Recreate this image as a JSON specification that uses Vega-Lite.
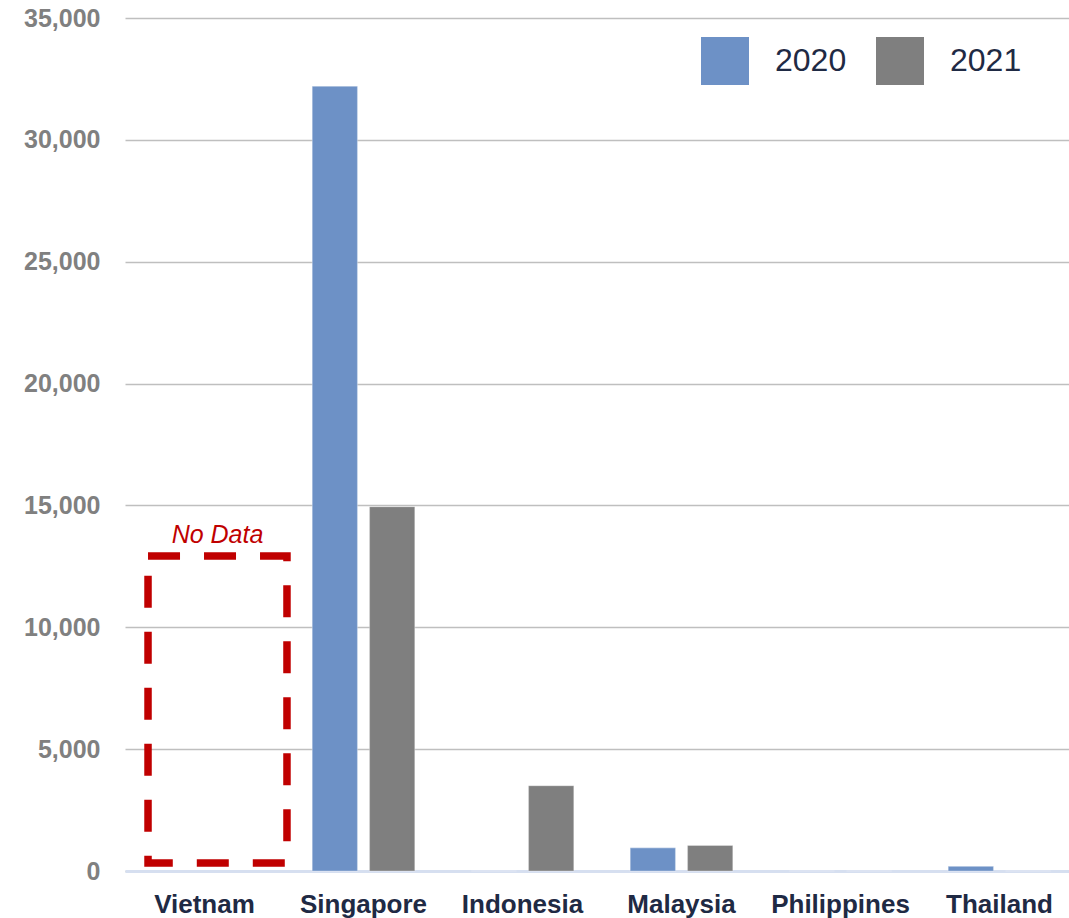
{
  "$schema": "https://vega.github.io/schema/vega-lite/v6.json",
  "width": 954,
  "height": 853,
  "autosize": {"type": "none"},
  "padding": {"left": 125, "top": 18, "right": 0, "bottom": 47},
  "background": "white",
  "config": {
    "font": "Liberation Sans",
    "view": {"stroke": null}
  },
  "datasets": {
    "bars": [
      {"country": "Singapore", "year": "2020", "value": 32200},
      {"country": "Singapore", "year": "2021", "value": 14950},
      {"country": "Indonesia", "year": "2020", "value": 0},
      {"country": "Indonesia", "year": "2021", "value": 3500},
      {"country": "Malaysia", "year": "2020", "value": 950},
      {"country": "Malaysia", "year": "2021", "value": 1050},
      {"country": "Philippines", "year": "2020", "value": 0},
      {"country": "Philippines", "year": "2021", "value": 0},
      {"country": "Thailand", "year": "2020", "value": 190},
      {"country": "Thailand", "year": "2021", "value": 0}
    ],
    "note": [
      {"country": "Vietnam", "label": "No Data", "top": 12920, "bottom": 330}
    ]
  },
  "layer": [
    {
      "data": {"name": "bars"},
      "mark": {"type": "bar", "stroke": "white", "strokeOpacity": 0.3, "strokeWidth": 1.2},
      "encoding": {
        "x": {
          "field": "country",
          "type": "nominal",
          "scale": {
            "domain": ["Vietnam", "Singapore", "Indonesia", "Malaysia", "Philippines", "Thailand"],
            "paddingInner": 0,
            "paddingOuter": 0
          },
          "axis": {
            "title": null,
            "labelAngle": 0,
            "labelFontSize": 26,
            "labelFontWeight": "bold",
            "labelColor": "#1F2A44",
            "labelPadding": 20,
            "ticks": false,
            "domainColor": "#D6DFF0",
            "domainWidth": 3,
            "grid": false
          }
        },
        "xOffset": {
          "field": "year",
          "type": "nominal",
          "scale": {"paddingInner": 0.209, "paddingOuter": 0.492}
        },
        "y": {
          "field": "value",
          "type": "quantitative",
          "scale": {"domain": [0, 35000], "nice": false},
          "axis": {
            "title": null,
            "values": [0, 5000, 10000, 15000, 20000, 25000, 30000, 35000],
            "format": ",d",
            "labelFontSize": 25,
            "labelFontWeight": "bold",
            "labelColor": "#808080",
            "labelPadding": 25,
            "ticks": false,
            "domain": false,
            "gridColor": "#BFBFBF",
            "gridWidth": 1.6
          }
        },
        "color": {
          "field": "year",
          "type": "nominal",
          "scale": {"domain": ["2020", "2021"], "range": ["#6D91C6", "#7F7F7F"]},
          "legend": {
            "title": null,
            "orient": "none",
            "direction": "horizontal",
            "legendX": 576,
            "legendY": 19,
            "padding": 0,
            "symbolType": "square",
            "symbolSize": 2304,
            "symbolStrokeWidth": 0,
            "symbolOpacity": 1,
            "labelFontSize": 32,
            "labelColor": "#1F2A44",
            "labelOffset": 26,
            "columnPadding": 29
          }
        }
      }
    },
    {
      "data": {"name": "note"},
      "mark": {
        "type": "bar",
        "fill": null,
        "fillOpacity": 0,
        "stroke": "#C00000",
        "strokeWidth": 7.5,
        "strokeDash": [32, 24],
        "width": {"band": 0.874},
        "xOffset": 13
      },
      "encoding": {
        "x": {"field": "country", "type": "nominal"},
        "y": {"field": "top", "type": "quantitative"},
        "y2": {"field": "bottom"}
      }
    },
    {
      "data": {"name": "note"},
      "mark": {
        "type": "text",
        "color": "#C00000",
        "fontStyle": "italic",
        "fontSize": 25,
        "baseline": "alphabetic",
        "dy": -13,
        "xOffset": 13
      },
      "encoding": {
        "x": {"field": "country", "type": "nominal"},
        "y": {"field": "top", "type": "quantitative"},
        "text": {"field": "label"}
      }
    }
  ]
}
